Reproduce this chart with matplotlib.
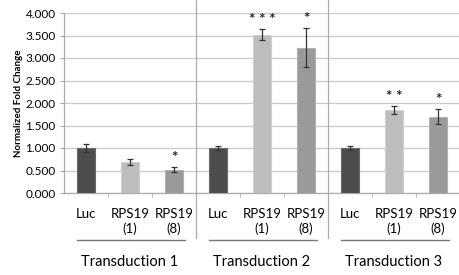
import numpy as np
import matplotlib
matplotlib.use('Agg')
import matplotlib.pyplot as plt

plt.rcParams['font.family'] = ['Lato', 'DejaVu Sans']

labels = ['Luc', 'RPS19\n(1)', 'RPS19\n(8)'] * 3
groups = ['Transduction 1', 'Transduction 2', 'Transduction 3']
values = [1.00, 0.69, 0.52, 1.00, 3.52, 3.23, 1.00, 1.85, 1.70]
errors = [0.09, 0.06, 0.06, 0.05, 0.13, 0.43, 0.05, 0.09, 0.17]
stars = ['', '', '*', '', '* * *', '*', '', '* *', '*']
colors = ['#4d4d4d', '#bdbdbd', '#9a9a9a'] * 3
edges = ['#6a6a6a', '#d0d0d0', '#b0b0b0'] * 3

fig = plt.figure(figsize=(4.6, 2.75), dpi=100)
ax = fig.add_axes([64/460, 82/275, 396/460, 180/275])

x = np.arange(len(values))
ax.bar(x, values, width=0.42, color=colors, edgecolor=edges, linewidth=0.8, zorder=3)
ax.errorbar(x, values, yerr=errors, fmt='none', ecolor='#333333', elinewidth=0.9,
            capsize=2, capthick=0.9, zorder=4)

# significance stars above the error bars
for xi, v, e, s in zip(x, values, errors, stars):
    if s:
        ax.text(xi, v + e + 0.2, s, ha='center', va='center', fontsize=11,
                fontweight='bold', color='#222222')

ax.set_ylim(0, 4)
ax.set_xlim(-0.5, 8.5)
ax.set_yticks(np.arange(0, 4.01, 0.5))
ax.set_yticklabels(['%.3f' % t for t in np.arange(0, 4.01, 0.5)], fontsize=8.5)
ax.yaxis.grid(True, color='#c8c8c8', linewidth=0.9, zorder=0)
ax.tick_params(axis='y', length=3, color='#aaaaaa', pad=3)
ax.set_ylabel('Normalized Fold Change', fontsize=7, fontweight='bold', labelpad=2)

ax.set_xticks(x)
ax.set_xticklabels(labels, fontsize=9.5)
ax.set_xticks(np.arange(0.5, 8.5, 1), minor=True)
ax.tick_params(axis='x', which='major', length=0, pad=11)
ax.tick_params(axis='x', which='minor', length=3, color='#aaaaaa', direction='out')

for sp in ['top', 'right']:
    ax.spines[sp].set_visible(False)
for sp in ['left', 'bottom']:
    ax.spines[sp].set_color('#aaaaaa')
    ax.spines[sp].set_linewidth(0.9)

tr = ax.get_xaxis_transform()
for sx in [2.5, 5.5]:
    ax.plot([sx, sx], [-0.25, 1.075], transform=tr, color='#aaaaaa', linewidth=0.9, clip_on=False)

for i, g in enumerate(groups):
    ax.plot([i*3 - 0.2, i*3 + 2.25], [-0.26, -0.26], transform=tr, color='#777777',
            linewidth=1.0, clip_on=False)
    ax.text(i*3 + 1, -0.385, g, transform=tr, ha='center', va='center', fontsize=10.5)

fig.savefig('out.png', dpi=100)
